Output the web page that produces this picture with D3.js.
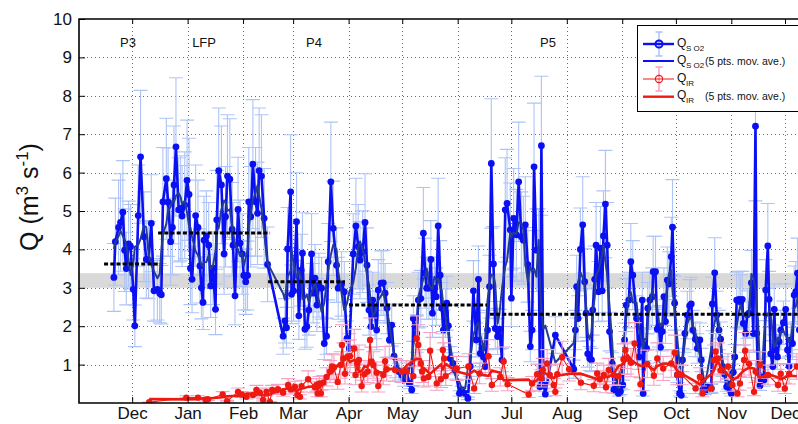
<!DOCTYPE html>
<html><head><meta charset="utf-8">
<script src="https://cdn.jsdelivr.net/npm/d3@7"></script>
<style>body{margin:0;background:#fff} svg{display:block} text{font-family:"Liberation Sans",Arial,Helvetica,sans-serif}</style>
</head><body><svg id="c" width="798" height="424"></svg>
<script>
// ---------------- data (day offsets counted from 2008-11-01) ----------------
const soDay = [19.8,20.6,22.4,23.5,24.8,25.8,26.7,28.0,29.1,30.6,31.5,33.4,34.7,36.6,37.9,39.2,40.7,42.2,44.1,
45.4,46.3,47.2,49.1,50.1,51.5,52.5,53.4,54.5,56.0,57.1,57.9,59.4,60.7,61.8,62.6,63.5,
65.5,66.8,67.9,68.7,69.6,70.2,71.5,72.8,73.9,75.2,76.6,77.3,78.4,79.9,81.4,82.2,83.3,84.6,85.9,86.4,87.5,89.2,90.3,91.5,92.4,93.5,94.5,95.2,96.3,97.5,99.0,100.1,101.0,102.3,103.8,105.7,
114.4,115.4,116.3,116.9,118.6,119.1,120.3,121.9,123.2,124.5,125.2,
126.6,127.7,128.8,130.3,131.2,132.2,133.3,134.4,135.9,137.4,138.7,139.6,141.1,142.4,144.3,145.2,147.1,148.6,150.1,151.4,153.6,155.1,156.4,157.4,158.9,160.2,161.3,162.4,163.5,164.5,165.8,166.7,167.6,169.2,170.4,171.4,172.5,173.8,175.1,176.4,177.6,179.2,180.7,
182.0,183.2,185.0,186.3,187.2,189.1,190.0,191.4,192.8,193.8,194.7,195.9,197.0,197.9,199.0,200.0,201.1,202.2,203.1,204.0,205.2,205.9,206.8,207.8,209.3,210.6,213.0,214.3,216.2,217.7,219.0,220.8,222.4,223.6,224.6,225.6,226.4,227.4,228.7,229.8,230.8,232.0,233.0,234.3,235.4,236.8,238.6,239.6,
241.4,242.0,243.3,244.8,246.1,247.6,248.7,249.8,251.2,252.6,253.6,254.7,256.0,257.3,258.0,258.8,259.9,261.0,
266.6,276.9,277.8,278.5,279.3,280.6,281.9,283.0,283.8,284.7,285.8,286.8,287.5,288.6,289.4,290.7,291.8,292.8,293.5,294.6,295.6,296.9,298.4,299.3,300.8,301.9,303.0,304.3,305.3,306.2,307.7,308.8,309.9,312.0,313.4,
315.2,315.7,316.5,317.6,318.3,319.4,320.8,321.3,322.6,323.6,324.5,325.4,326.4,327.3,328.2,329.2,330.1,331.4,332.1,333.3,334.8,336.1,337.0,337.7,339.0,340.4,341.7,342.6,343.5,344.9,346.0,347.4,348.2,349.1,350.2,351.6,353.8,354.4,355.7,356.8,358.1,359.0,360.0,361.3,362.4,363.1,364.2,365.0,366.1,366.9,368.0,369.3,370.2,371.1,371.7,373.0,373.9,374.9,376.2,377.3,378.5,379.2,379.9,381.0,382.4,383.3,384.2,385.4,386.1,387.0,388.2,389.0,389.8,390.8,391.7,392.6,394.1,395.4,396.4,397.3,398.2,399.2,400.1,401.0,402.0,403.0];
const soQ = [3.27,4.20,4.57,4.70,4.97,3.98,3.50,4.14,4.07,2.96,2.01,4.88,6.41,4.33,3.74,3.72,4.68,2.92,2.96,
2.86,2.82,5.24,5.84,5.23,4.20,4.57,5.68,6.67,5.03,5.07,4.87,5.15,5.80,5.43,3.51,3.22,
4.88,4.57,3.57,3.00,2.62,4.24,4.35,4.11,3.05,3.51,2.44,4.77,6.05,5.68,3.88,4.85,5.91,5.83,4.52,4.11,2.79,5.04,4.16,3.88,3.32,3.16,3.32,5.24,4.85,6.22,5.24,4.94,6.05,5.91,4.81,3.61,
1.74,2.14,1.96,4.01,5.50,2.83,2.92,4.72,2.27,3.46,3.90,
1.92,1.99,2.42,3.88,2.86,3.25,2.55,3.07,2.99,1.55,1.74,3.68,5.76,4.55,3.59,2.99,3.10,2.90,1.68,1.42,3.88,4.61,4.07,3.72,3.94,4.70,3.59,2.42,1.99,2.68,2.29,1.90,2.94,3.12,3.13,2.86,2.47,1.64,2.03,1.22,0.90,0.82,0.73,
0.60,0.86,0.51,0.34,2.20,1.81,2.68,2.72,4.42,3.38,2.99,2.99,3.74,2.34,2.99,2.77,4.61,3.33,2.47,1.90,2.34,2.60,2.01,1.16,1.03,0.85,0.25,0.34,0.25,0.12,0.95,2.92,1.64,3.22,1.29,1.42,1.20,0.95,1.90,3.03,6.24,3.62,1.94,1.73,1.92,1.12,5.03,5.20,
4.51,2.73,4.81,4.38,5.76,4.33,4.24,4.64,3.60,1.47,1.90,6.15,3.98,3.98,0.42,6.70,0.50,0.23,
1.77,0.88,1.90,3.03,2.20,4.00,4.64,3.16,2.34,1.28,1.16,1.12,2.42,3.22,4.11,2.90,4.03,2.92,4.35,5.18,4.11,1.86,1.03,0.34,0.55,0.25,0.30,0.47,1.64,2.55,2.68,3.68,3.33,2.20,1.20,
2.68,0.25,1.51,1.42,2.47,2.68,2.77,3.42,3.42,1.92,2.00,1.45,1.86,2.77,2.12,3.20,3.10,3.81,4.58,2.60,0.73,0.25,0.20,1.12,1.81,2.29,2.53,2.58,1.90,1.66,1.42,1.64,1.12,0.34,0.30,0.42,0.38,2.58,3.39,2.29,1.90,1.66,0.95,0.75,0.42,0.50,0.34,0.25,0.80,1.20,2.68,2.70,2.63,2.70,2.07,1.81,2.30,2.34,3.13,1.81,7.21,1.81,0.80,0.45,0.68,0.60,2.94,4.09,2.70,1.28,0.95,2.44,1.38,1.20,1.60,1.90,2.09,2.44,1.38,0.96,1.64,1.55,2.81,2.90,3.38,1.90];
const irDay = [39.5,60.3,66.8,71.1,72.4,80.6,83.1,89.2,91.3,93.9,97.6,99.5,101.4,103.2,105.1,107.0,108.3,111.5,114.4,117.2,118.7,121.0,122.4,123.8,124.7,128.4,132.2,133.0,133.7,134.7,135.5,136.8,138.7,140.6,141.7,142.8,144.9,146.6,147.3,148.1,149.0,150.5,151.8,154.2,154.9,155.9,156.8,158.3,159.8,161.7,163.0,163.8,164.8,166.7,167.6,170.4,171.4,172.3,177.0,180.7,183.5,187.2,189.1,190.0,191.4,192.1,193.1,195.6,196.6,200.3,202.6,203.7,204.4,205.3,211.5,218.0,221.2,224.2,229.2,231.1,235.8,237.7,239.9,251.7,253.6,256.4,258.8,259.6,262.0,263.5,265.7,266.6,267.7,270.4,274.3,280.9,288.1,290.0,291.5,293.7,294.9,296.5,299.3,301.9,304.7,305.8,306.9,308.9,310.9,314.2,318.0,321.7,323.6,326.9,331.4,333.4,334.8,337.2,345.0,347.4,348.9,353.8,355.3,356.2,357.5,359.0,363.1,365.6,368.4,369.8,372.1,372.7,374.9,377.7,378.6,381.0,385.5,391.1,392.6,394.9,397.3,401.6];
const irQ = [0.02,0.14,0.14,0.08,0.10,0.22,0.05,0.29,0.22,0.16,0.21,0.34,0.27,0.08,0.29,0.03,0.34,0.36,0.27,0.47,0.36,0.42,0.21,0.16,0.44,0.62,0.41,0.47,0.25,0.51,0.25,0.53,0.68,0.82,0.95,0.93,0.55,0.99,1.51,1.16,0.76,1.21,1.22,1.42,0.73,1.03,1.12,0.44,0.75,0.82,1.64,1.08,0.99,0.79,0.44,0.73,1.09,0.88,0.86,0.82,0.82,0.70,1.68,1.51,1.03,0.82,0.64,0.68,1.36,0.51,0.62,1.38,1.16,0.70,0.90,0.95,0.38,0.77,1.22,0.47,0.68,1.08,0.49,0.22,0.51,0.75,0.64,0.86,1.03,0.73,0.47,0.29,0.75,1.19,0.88,0.53,0.45,0.77,0.62,0.73,0.41,0.86,0.73,0.70,1.14,1.38,1.16,1.05,1.55,0.49,1.02,0.71,1.16,0.90,1.03,1.31,0.73,0.73,0.38,0.68,0.25,0.38,1.12,1.34,1.16,0.85,0.95,0.47,0.25,0.51,1.12,1.36,1.02,0.29,0.82,0.99,0.73,0.47,0.76,0.38,0.76,0.95];
const soRelErr = 0.27;   // relative uncertainty of Q_SO2
const irRelErr = 0.35;   // relative uncertainty of Q_IR
const movAveN = 5;
const periodNames = ["P3","LFP","P4","P5"];
const periodDay = [27.7,70.2,131.7,262.5];
const meanStart = [14.3,44.5,106.0,151.2,230.0];
const meanEnd = [45.6,107.1,149.0,228.4,420.0];
const meanQ = [3.62,4.43,3.16,2.55,2.31];
const bandQ = [3.0,3.38];
const monthTicks = ["2008-12-01","2009-01-01","2009-02-01","2009-03-01","2009-04-01","2009-05-01","2009-06-01","2009-07-01","2009-08-01","2009-09-01","2009-10-01","2009-11-01","2009-12-01"];
const monthLabels = ["Dec","Jan","Feb","Mar","Apr","May","Jun","Jul","Aug","Sep","Oct","Nov","Dec"];
const yTicks = [1,2,3,4,5,6,7,8,9,10];

// ---------------- drawing ----------------
const svg = d3.select("#c");
const L = 79, R = 798, T = 19, B = 403;
const t0 = Date.UTC(2008,10,1);
const x = d3.scaleUtc().domain([new Date(t0), new Date(Date.UTC(2009,11,1))]).range([78.5, 785]);
const y = d3.scaleLinear().domain([0,10]).range([B, T]);
const X = d => x(new Date(t0 + d*864e5));
const monthDates = monthTicks.map(s => new Date(s + "T00:00:00Z"));

const C = {blue:"#0a10f2", blueErr:"#aec3f6", blueMA:"#233d92", red:"#ee1a12", pink:"#f5a0c4", grid:"#6a6a6a"};

svg.append("rect").attr("width",798).attr("height",424).attr("fill","#fff");
svg.append("defs").append("clipPath").attr("id","clip").append("rect")
  .attr("x",L).attr("y",T).attr("width",R-L+40).attr("height",B-T);

// gray band
svg.append("rect").attr("x",L).attr("width",R-L+5)
  .attr("y",y(bandQ[1])).attr("height",y(bandQ[0])-y(bandQ[1])).attr("fill","#d9d9d9");

// grid
const grid = svg.append("g").attr("stroke",C.grid).attr("stroke-width",1).attr("stroke-dasharray","1,3");
grid.selectAll(null).data(monthDates).join("line")
  .attr("x1",d=>Math.round(x(d))+0.5).attr("x2",d=>Math.round(x(d))+0.5).attr("y1",T).attr("y2",B);
grid.selectAll(null).data(yTicks.filter(v=>v<10)).join("line")
  .attr("y1",d=>Math.round(y(d))+0.5).attr("y2",d=>Math.round(y(d))+0.5).attr("x1",L).attr("x2",R);

const plot = svg.append("g").attr("clip-path","url(#clip)");

function movAve(vals, n){
  const h = Math.floor(n/2);
  return vals.map((v,i)=> d3.mean(vals.slice(Math.max(0,i-h), Math.min(vals.length,i+h+1))));
}
function errBars(g, days, vals, rel, color, cap){
  g.append("g").selectAll(null).data(days).join("path")
    .attr("d",(d,i)=>{ const cx=X(d), e=vals[i]*rel, y1=y(vals[i]+e), y2=y(vals[i]-e);
      return `M${cx},${y1}V${y2}M${cx-cap},${y1}H${cx+cap}M${cx-cap},${y2}H${cx+cap}`; })
    .attr("stroke",color).attr("stroke-width",1.1).attr("fill","none");
}
const line = days => d3.line().x((v,i)=>X(days[i])).y(v=>y(v));

// SO2 series
errBars(plot, soDay, soQ, soRelErr, C.blueErr, 7);
plot.append("path").datum(soQ).attr("d",line(soDay)).attr("fill","none").attr("stroke",C.blue).attr("stroke-width",2.6).attr("stroke-linejoin","round");
plot.append("g").selectAll(null).data(soQ).join("circle")
  .attr("cx",(v,i)=>X(soDay[i])).attr("cy",v=>y(v)).attr("r",3.4).attr("fill",C.blue);
plot.append("path").datum(movAve(soQ, movAveN)).attr("d",line(soDay)).attr("fill","none").attr("stroke",C.blueMA).attr("stroke-width",2).attr("stroke-linejoin","round");

// IR series
errBars(plot, irDay, irQ, irRelErr, C.pink, 7);
plot.append("path").datum(irQ).attr("d",line(irDay)).attr("fill","none").attr("stroke",C.red).attr("stroke-width",1.1);
plot.append("g").selectAll(null).data(irQ).join("circle")
  .attr("cx",(v,i)=>X(irDay[i])).attr("cy",v=>y(v)).attr("r",3.2).attr("fill",C.red);
plot.append("path").datum(movAve(irQ, movAveN)).attr("d",line(irDay)).attr("fill","none").attr("stroke",C.red).attr("stroke-width",2.6).attr("stroke-linejoin","round");

// period means
plot.append("g").selectAll(null).data(meanQ).join("line")
  .attr("x1",(v,i)=>X(meanStart[i])).attr("x2",(v,i)=>X(meanEnd[i]))
  .attr("y1",v=>y(v)).attr("y2",v=>y(v))
  .attr("stroke","#000").attr("stroke-width",3).attr("stroke-dasharray","4,2.2");

// frame
svg.append("path").attr("d",`M${R+2},${T}H${L}V${B}H${R+2}`).attr("fill","none").attr("stroke","#000").attr("stroke-width",1.6);

// axes
const yAxis = d3.axisLeft(y).tickValues(yTicks).tickSize(-6).tickPadding(7).tickFormat(d3.format("d"));
svg.append("g").attr("transform",`translate(${L},0)`).call(yAxis)
  .call(g=>g.select(".domain").remove())
  .attr("font-family","Liberation Sans, Arial, sans-serif").attr("font-size",17)
  .call(g=>g.selectAll("text").attr("fill","#111"));
const xAxis = d3.axisBottom(x).tickValues(monthDates).tickSize(-6).tickPadding(4).tickFormat((d,i)=>monthLabels[i]);
svg.append("g").attr("transform",`translate(0,${B})`).call(xAxis)
  .call(g=>g.select(".domain").remove())
  .attr("font-family","Liberation Sans, Arial, sans-serif").attr("font-size",17)
  .call(g=>g.selectAll("text").attr("fill","#111"));
const xTop = d3.axisTop(x).tickValues(monthDates).tickSize(-5).tickFormat("");
svg.append("g").attr("transform",`translate(0,${T})`).call(xTop).call(g=>g.select(".domain").remove());

// y label
const yl = svg.append("text").attr("transform","translate(38,197) rotate(-90)").attr("text-anchor","middle")
  .attr("font-size",25).attr("fill","#111");
yl.append("tspan").text("Q (m");
yl.append("tspan").attr("dy",-10).attr("font-size",17).text("3");
yl.append("tspan").attr("dy",10).text(" s");
yl.append("tspan").attr("dy",-10).attr("font-size",17).text("-1");
yl.append("tspan").attr("dy",10).text(")");

// period labels
svg.append("g").selectAll(null).data(periodNames).join("text")
  .attr("x",(d,i)=>X(periodDay[i])).attr("y",47).attr("text-anchor","middle")
  .attr("font-size",13).attr("fill","#111").text(d=>d);

// legend
const lg = svg.append("g");
lg.append("rect").attr("x",637.5).attr("y",25.5).attr("width",200).attr("height",86).attr("fill","#fff").attr("stroke","#000").attr("stroke-width",1);
const lx1 = 643, lx2 = 674, lcx = 659;
function legErr(yc, h, color){
  lg.append("path").attr("d",`M${lcx},${yc-h}V${yc+h}M${lcx-3.5},${yc-h}H${lcx+3.5}M${lcx-3.5},${yc+h}H${lcx+3.5}`)
    .attr("stroke",color).attr("stroke-width",1.5).attr("fill","none");
}
// entry 1
legErr(44, 12, C.blueErr);
lg.append("line").attr("x1",lx1).attr("x2",lx2).attr("y1",44).attr("y2",44).attr("stroke",C.blue).attr("stroke-width",2.4);
lg.append("circle").attr("cx",lcx).attr("cy",44).attr("r",3.6).attr("fill","none").attr("stroke",C.blue).attr("stroke-width",2);
// entry 2
lg.append("line").attr("x1",lx1).attr("x2",lx2).attr("y1",61).attr("y2",61).attr("stroke",C.blue).attr("stroke-width",2);
// entry 3
legErr(79, 12, C.pink);
lg.append("line").attr("x1",lx1).attr("x2",lx2).attr("y1",79).attr("y2",79).attr("stroke",C.red).attr("stroke-width",1);
lg.append("circle").attr("cx",lcx).attr("cy",79).attr("r",3.6).attr("fill","none").attr("stroke",C.red).attr("stroke-width",1.2);
// entry 4
lg.append("line").attr("x1",lx1).attr("x2",lx2).attr("y1",96.7).attr("y2",96.7).attr("stroke",C.red).attr("stroke-width",2.4);

function legText(yb, sub, extra){
  lg.append("text").attr("x",677).attr("y",yb).attr("font-size",12).attr("fill","#111").text("Q");
  lg.append("text").attr("x",686).attr("y",yb+4).attr("font-size",8).attr("fill","#111").text(sub);
  if (extra) lg.append("text").attr("x",705).attr("y",yb+1).attr("font-size",10.5).attr("fill","#111").text(extra);
}
legText(47, "S O2", null);
legText(63.5, "S O2", "(5 pts. mov. ave.)");
legText(82, "IR", null);
legText(98.5, "IR", "(5 pts. mov. ave.)");
</script>
</body></html>
